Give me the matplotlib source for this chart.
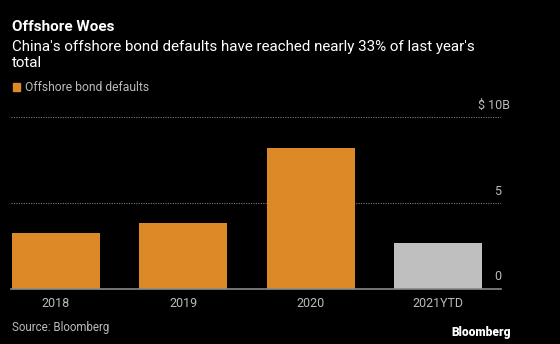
import matplotlib
matplotlib.use('Agg')
import matplotlib.pyplot as plt
import matplotlib.transforms as mtransforms

# Offshore bond defaults, $ billions
years = ['2018', '2019', '2020', '2021YTD']
defaults = [3.26, 3.83, 8.2, 2.65]
bar_colors = ['#db8a27', '#db8a27', '#db8a27', '#bfbfbf']
y_ticks = [0, 5, 10]
y_tick_labels = ['0', '5', '$ 10B']

plt.rcParams['font.family'] = ['Roboto', 'DejaVu Sans']

W, H = 560, 344
fig = plt.figure(figsize=(W / 100, H / 100), dpi=100, facecolor='black')

ax = fig.add_axes([11 / W, (H - 288.5) / H, 490 / W, 171.5 / H])
ax.set_facecolor('black')
ax.bar(range(len(years)), defaults, width=0.69, color=bar_colors, zorder=2)
ax.set_xlim(-0.353, 3.494)
ax.set_ylim(0, 10)

for s in ax.spines.values():
    s.set_visible(False)
ax.set_xticks(range(len(years)))
ax.set_xticklabels(years, color='#bbbbbb', fontsize=9)
ax.tick_params(axis='x', length=0, pad=6)
ax.set_yticks([])

# dotted gridlines and solid baseline
for v in y_ticks[1:]:
    ax.axhline(v, color='#7a7a7a', lw=0.8, ls=(0, (1, 1.2)), zorder=1)
ax.axhline(0, color='#8a8a8a', lw=1.2, zorder=3, clip_on=False)

trans = mtransforms.blended_transform_factory(ax.transAxes, ax.transData)
for v, lab in zip(y_ticks, y_tick_labels):
    x = 1.018 if lab.startswith('$') else 1.0
    ax.text(x, v + 0.3, lab, transform=trans, ha='right', va='bottom',
            color='#bbbbbb', fontsize=9)

fig.text(12 / W, 1 - 27 / H, 'Offshore Woes', color='white', fontsize=11,
         fontweight='bold', va='center', ha='left')
fig.text(12 / W, 1 - 46.5 / H, "China's offshore bond defaults have reached nearly 33% of last year's",
         color='white', fontsize=10.9, va='center', ha='left')
fig.text(12 / W, 1 - 63 / H, 'total', color='white', fontsize=10.9, va='center', ha='left')

# legend
fig.patches.append(plt.Rectangle((12.7 / W, 1 - 91 / H), 7.5 / W, 7.5 / H,
                                 transform=fig.transFigure, color='#db8a27'))
fig.text(25 / W, 1 - 87.5 / H, 'Offshore bond defaults', color='#bbbbbb',
         fontsize=8.7, va='center', ha='left')

fig.text(12 / W, 1 - 327.5 / H, 'Source: Bloomberg', color='#bbbbbb',
         fontsize=8.3, va='center', ha='left')
fig.text(511 / W, 1 - 332.5 / H, 'Bloomberg', color='white', fontsize=8.6,
         fontweight='heavy', va='center', ha='right')

fig.savefig('out.png', dpi=100, facecolor='black')
